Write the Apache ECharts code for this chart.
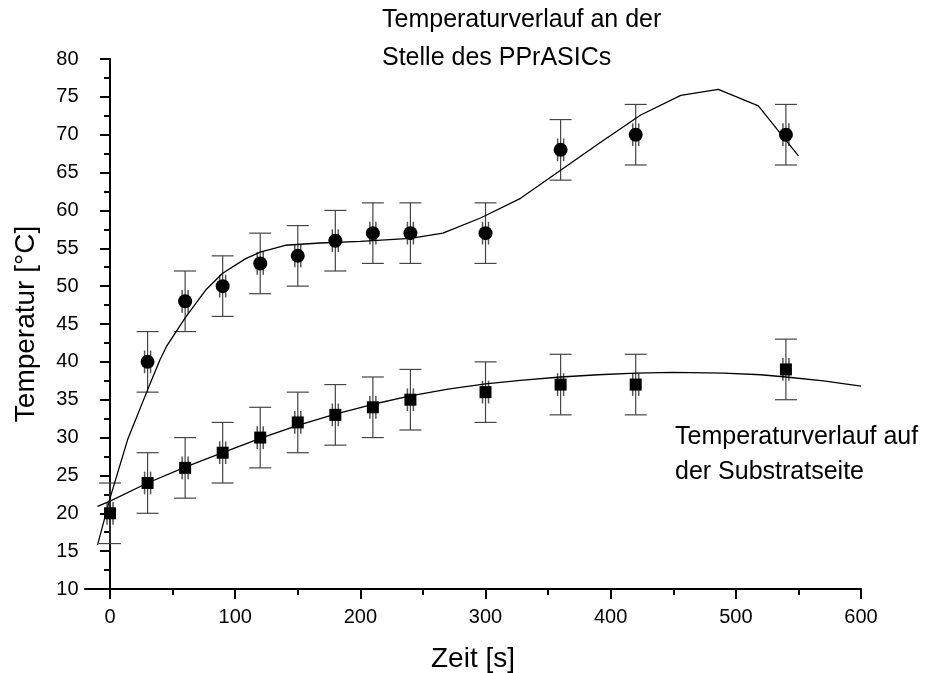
<!DOCTYPE html>
<html>
<head>
<meta charset="utf-8">
<script src="https://cdn.jsdelivr.net/npm/echarts@6/dist/echarts.min.js"></script>
<style>
  html, body { margin: 0; padding: 0; background: #fff; }
  #chart { width: 947px; height: 673px; }
</style>
</head>
<body>
<div id="chart"></div>
<script>
// measured points, circles = chip position, squares = substrate side
const circleTime = [30, 60, 90, 120, 150, 180, 210, 240, 300, 360, 420, 540];
const circleTemp = [40, 48, 50, 53, 54, 56, 57, 57, 57, 68, 70, 70];
const squareTime = [0, 30, 60, 90, 120, 150, 180, 210, 240, 300, 360, 420, 540];
const squareTemp = [20, 24, 26, 28, 30, 32, 33, 34, 35, 36, 37, 37, 39];
const errHalf = 4;
const innerHalf = 1.5;

// fitted curves
const upperFitTime = [-10, 0, 14, 30, 40, 45, 60, 77, 90, 108, 120, 140, 168, 200, 240, 266, 296, 328, 360, 392, 424, 456, 486, 518, 550];
const upperFitTemp = [15.8, 22, 29.7, 36.3, 40.3, 42, 45.8, 49.6, 51.7, 53.6, 54.5, 55.4, 55.7, 55.9, 56.3, 57.0, 59.0, 61.6, 65.3, 69.0, 72.6, 75.2, 76.0, 73.8, 67.2];
const lowerFitTime = [-10, 0, 30, 60, 90, 120, 150, 180, 210, 240, 270, 300, 330, 360, 390, 420, 450, 490, 520, 540, 570, 600];
const lowerFitTemp = [20.9, 21.6, 24.0, 26.1, 28.0, 29.9, 31.6, 33.1, 34.4, 35.5, 36.4, 37.1, 37.6, 38.0, 38.3, 38.5, 38.6, 38.5, 38.3, 38.0, 37.5, 36.8];

const xTicks = [0, 100, 200, 300, 400, 500, 600];
const xMinorTicks = [50, 150, 250, 350, 450, 550];

const font = 'Liberation Sans, Arial, Helvetica, sans-serif';

const zip = (a, b) => a.map((v, i) => [v, b[i]]);

function errorBarItem(params, api) {
    const x = api.value(0);
    const y = api.value(1);
    const top = api.coord([x, y + errHalf]);
    const bot = api.coord([x, y - errHalf]);
    const iTop = api.coord([x, y + innerHalf]);
    const iBot = api.coord([x, y - innerHalf]);
    const outer = { stroke: '#444', lineWidth: 1.2 };
    const inner = { stroke: '#555', lineWidth: 1.5 };
    const cap = 11;
    return {
        type: 'group',
        children: [
            { type: 'line', shape: { x1: top[0], y1: top[1], x2: bot[0], y2: bot[1] }, style: outer },
            { type: 'line', shape: { x1: top[0] - cap, y1: top[1], x2: top[0] + cap, y2: top[1] }, style: outer },
            { type: 'line', shape: { x1: bot[0] - cap, y1: bot[1], x2: bot[0] + cap, y2: bot[1] }, style: outer },
            { type: 'line', shape: { x1: iTop[0] - 3, y1: iTop[1], x2: iBot[0] - 3, y2: iBot[1] }, style: inner },
            { type: 'line', shape: { x1: iTop[0] + 3, y1: iTop[1], x2: iBot[0] + 3, y2: iBot[1] }, style: inner }
        ]
    };
}

const axisLine = { show: true, lineStyle: { color: '#000', width: 2 } };

const option = {
    animation: false,
    grid: { left: 85, right: 86, top: 59, bottom: 84, outerBoundsMode: 'none' },
    xAxis: [
        {
            type: 'value',
            min: -20,
            max: 600,
            position: 'bottom',
            name: 'Zeit [s]',
            nameLocation: 'middle',
            nameGap: 56,
            nameTextStyle: { fontSize: 28, color: '#000', fontFamily: font },
            axisLine: axisLine,
            axisTick: { show: true, customValues: xTicks, length: 10, lineStyle: { color: '#000', width: 2 } },
            axisLabel: { customValues: xTicks, fontSize: 20, color: '#000', fontFamily: font, margin: 18 },
            splitLine: { show: false }
        },
        {
            type: 'value',
            min: -20,
            max: 600,
            position: 'bottom',
            axisLine: { show: false },
            axisTick: { show: true, customValues: xMinorTicks, length: 6, lineStyle: { color: '#000', width: 2 } },
            axisLabel: { show: false },
            splitLine: { show: false }
        }
    ],
    yAxis: {
        type: 'value',
        min: 10,
        max: 80,
        interval: 5,
        offset: -12.5,
        name: 'Temperatur [°C]',
        nameLocation: 'middle',
        nameGap: 57,
        nameTextStyle: { fontSize: 28, color: '#000', fontFamily: font },
        axisLine: axisLine,
        axisTick: { show: true, length: 10, lineStyle: { color: '#000', width: 2 } },
        minorTick: { show: true, splitNumber: 2, length: 6, lineStyle: { color: '#000', width: 2 } },
        axisLabel: { fontSize: 20, color: '#000', fontFamily: font, margin: 19 },
        splitLine: { show: false },
        minorSplitLine: { show: false }
    },
    graphic: [
        { type: 'text', left: 382, top: 8, style: { text: 'Temperaturverlauf an der', font: '25px ' + font, fill: '#000' } },
        { type: 'text', left: 382, top: 46, style: { text: 'Stelle des PPrASICs', font: '25px ' + font, fill: '#000' } },
        { type: 'text', left: 675, top: 425, style: { text: 'Temperaturverlauf auf', font: '25px ' + font, fill: '#000' } },
        { type: 'text', left: 675, top: 460, style: { text: 'der Substratseite', font: '25px ' + font, fill: '#000' } }
    ],
    series: [
        {
            type: 'custom',
            renderItem: errorBarItem,
            data: zip(circleTime, circleTemp),
            encode: { x: 0, y: 1 },
            z: 1,
            silent: true
        },
        {
            type: 'custom',
            renderItem: errorBarItem,
            data: zip(squareTime, squareTemp),
            encode: { x: 0, y: 1 },
            z: 1,
            silent: true
        },
        {
            type: 'line',
            data: zip(upperFitTime, upperFitTemp),
            showSymbol: false,
            lineStyle: { color: '#000', width: 1.3 },
            z: 2
        },
        {
            type: 'line',
            data: zip(lowerFitTime, lowerFitTemp),
            showSymbol: false,
            lineStyle: { color: '#000', width: 1.3 },
            z: 2
        },
        {
            type: 'scatter',
            data: zip(circleTime, circleTemp),
            symbol: 'circle',
            symbolSize: 14,
            itemStyle: { color: '#000', opacity: 1 },
            z: 3
        },
        {
            type: 'scatter',
            data: zip(squareTime, squareTemp),
            symbol: 'rect',
            symbolSize: 12,
            itemStyle: { color: '#000', opacity: 1 },
            z: 3
        }
    ]
};

const myChart = echarts.init(document.getElementById('chart'));
myChart.setOption(option);
</script>
</body>
</html>
